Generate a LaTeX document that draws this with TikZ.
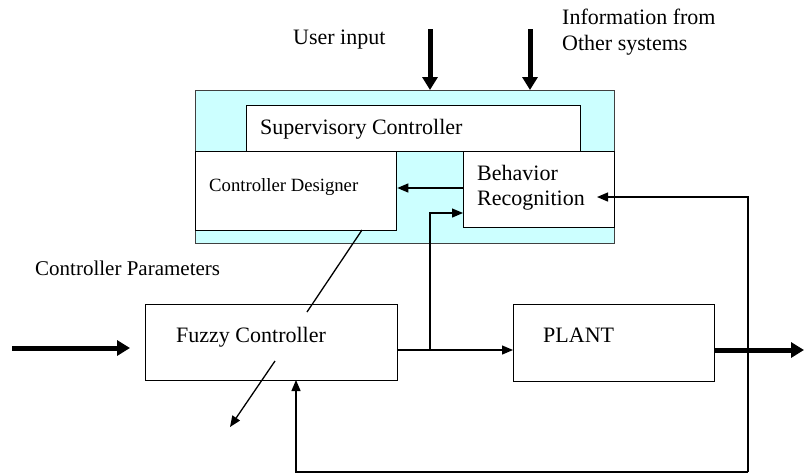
\documentclass[tikz,border=0pt]{standalone}
\usepackage{fontspec}
\setmainfont{Liberation Serif}
\usetikzlibrary{arrows.meta,calc}
\definecolor{lightcyan}{RGB}{204,255,255}
\tikzset{
  box/.style={draw=black, line width=1.3pt, fill=white, anchor=north west, inner sep=0pt},
  lbl/.style={anchor=base west, inner sep=0pt, font=\fontsize{22}{25}\selectfont},
  smalllbl/.style={anchor=base west, inner sep=0pt, font=\fontsize{18.7}{22}\selectfont},
  arr/.style={line width=1.3pt, -{Triangle[length=11pt,width=9pt]}},
  thin/.style={line width=1.3pt},
  thickarr/.style={line width=5pt, -{Triangle[length=13pt,width=15pt]}}
}
\begin{document}
\begin{tikzpicture}[x=1pt,y=-1pt]
\useasboundingbox (0,0) rectangle (804,475);
% outer supervisory area
\node[box, fill=lightcyan, draw=black!75, minimum width=419pt, minimum height=153pt] (outer) at (195,90) {};
\node[box, minimum width=334pt, minimum height=46pt] (sup) at (246,105) {};
\node[box, minimum width=201pt, minimum height=79pt] (cd) at (195,151) {};
\node[box, minimum width=151pt, minimum height=76pt] (br) at (463,151) {};
\node[box, minimum width=252pt, minimum height=76pt] (fc) at (145,304) {};
\node[box, minimum width=201pt, minimum height=77pt] (plant) at (513,304) {};
% texts
\node[lbl] (tsup) at (260,134) {Supervisory Controller};
\node[smalllbl] (tcd) at (209,191) {Controller Designer};
\node[lbl] (tbr1) at (477,180) {Behavior};
\node[lbl] (tbr2) at (477,205) {Recognition};
\node[lbl] (tfc) at (176,342) {Fuzzy Controller};
\node[lbl] (tpl) at (543,342) {PLANT};
\node[lbl, font=\fontsize{21}{24}\selectfont] (tcp) at (35,275) {Controller Parameters};
\node[lbl] (tui) at (293,44) {User input};
\node[lbl] (tinf1) at (562,24) {Information from};
\node[lbl] (tinf2) at (562,50) {Other systems};
% coordinates
\coordinate (ui) at (430,29);
\coordinate (oi) at (530,29);
\coordinate (in) at (12,348);
\coordinate (inend) at (130,348);
\coordinate (j) at (430,350);
\coordinate (tap) at (748,350);
\coordinate (out) at (804,350);
\coordinate (fbtip) at (597,197);
\coordinate (fbb) at (748,472);
\coordinate (fcin) at (296,380);
\coordinate (bri) at (463,213);
\coordinate (d1) at (362,230);
\coordinate (d2) at (307,312);
\coordinate (d3) at (275,361);
\coordinate (d4) at (230,427);
% top inputs
\draw[thickarr] (ui) -- (ui |- outer.north);
\draw[thickarr] (oi) -- (oi |- outer.north);
% inside supervisory
\draw[arr] (br.west |- 0,188) -- (cd.east |- 0,188);
\draw[arr] (j) |- (bri);
% main path
\draw[thickarr] (in) -- (inend);
\draw[thin] (fc.east |- j) -- (j);
\draw[arr] (j) -- (plant.west |- j);
\draw[thickarr] (plant.east |- j) -- (out);
% feedback
\draw[arr] (fbb) -- (tap) |- (fbtip);
\draw[arr] (fbb) -| (fcin);
% parameter adjustment
\draw[thin] (d1) -- (d2);
\draw[arr] (d3) -- (d4);
\end{tikzpicture}
\end{document}
